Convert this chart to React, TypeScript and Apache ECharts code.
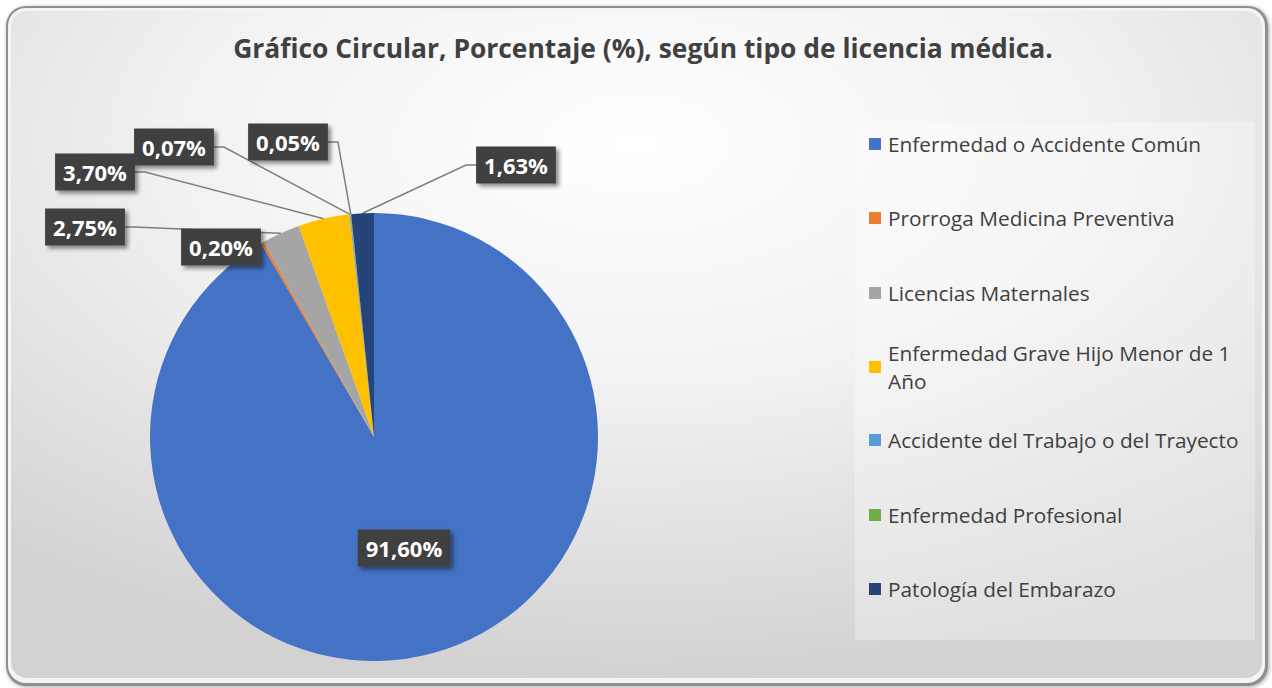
import React, { useEffect, useRef } from "react";
import * as echarts from "echarts";

const titleText = "Gráfico Circular, Porcentaje (%), según tipo de licencia médica.";
const categories = [
  "Enfermedad o Accidente Común",
  "Prorroga Medicina Preventiva",
  "Licencias Maternales",
  "Enfermedad Grave Hijo Menor de 1 Año",
  "Accidente del Trabajo o del Trayecto",
  "Enfermedad Profesional",
  "Patología del Embarazo",
];
const percentages = [91.6, 0.2, 2.75, 3.7, 0.07, 0.05, 1.63];
const colors = ["#4472C4", "#ED7D31", "#A5A5A5", "#FFC000", "#5B9BD5", "#70AD47", "#264478"];
const legendLines: Record<string, string> = {
  "Enfermedad Grave Hijo Menor de 1 Año": "Enfermedad Grave Hijo Menor de 1\nAño",
};

// layout (label box centers, legend marker rows)
const labelCenters: (number[] | null)[] = [null, [221, 247], [85, 227], [95, 172], [174, 147], [288, 142], [516, 165]];
const legendRows = [144, 218, 293, 367, 440, 515, 589];

const FONT = "Open Sans";

export default function App() {
  const ref = useRef<HTMLDivElement>(null);
  useEffect(() => {
    document.body.style.margin = "0";
    document.body.style.overflow = "hidden";
    const chart = echarts.init(ref.current!, undefined, { renderer: "svg" });
    const LH = 28;
    const legends = categories.map((name, i) => {
      const lines = (legendLines[name] || name).split("\n").length;
      const extra = (lines - 1) * LH;
      return {
        data: [name],
        orient: "vertical",
        left: 869,
        top: legendRows[i] - 14 - extra,
        padding: 0,
        itemGap: 0,
        icon: "rect",
        itemWidth: 12,
        itemHeight: 12,
        selectedMode: false,
        formatter: (n: string) => legendLines[n] || n,
        textStyle: {
          fontFamily: FONT,
          fontSize: 20.8,
          color: "#404040",
          lineHeight: LH,
          padding: extra ? [extra, 0, 0, 2] : [0, 0, 0, 2],
        },
      };
    });
    chart.setOption({
      animation: false,
      color: colors,
      title: {
        text: titleText,
        left: 638,
        textAlign: "center",
        top: 30,
        textStyle: { fontFamily: FONT, fontSize: 26.4, fontWeight: "bold", color: "#404040" },
      },
      graphic: [
        {
          type: "rect",
          z: -30,
          shape: { x: 6, y: 6, width: 1262, height: 680, r: 20 },
          style: {
            fill: "#8f8f8f",
            shadowBlur: 4,
            shadowColor: "rgba(0,0,0,0.35)",
            shadowOffsetX: 1,
            shadowOffsetY: 1,
          },
        },
        {
          type: "rect",
          z: -29,
          shape: { x: 8, y: 8, width: 1257, height: 675, r: 18 },
          style: { fill: "#f4f4f4" },
        },
        {
          type: "rect",
          z: -28,
          shape: { x: 11, y: 11, width: 1251, height: 667, r: 16 },
          style: {
            fill: {
              type: "radial",
              x: 0.5,
              y: 0.2,
              r: 0.8,
              colorStops: [
                { offset: 0, color: "#ffffff" },
                { offset: 0.45, color: "#f2f2f2" },
                { offset: 1, color: "#d2d2d2" },
              ],
            },
          },
        },
        {
          type: "rect",
          z: -27,
          shape: { x: 855, y: 122, width: 400, height: 518 },
          style: { fill: "rgba(255,255,255,0.3)" },
        },
      ],
      legend: legends,
      series: [
        {
          type: "pie",
          center: [374, 437],
          radius: 224,
          startAngle: 90,
          clockwise: true,
          avoidLabelOverlap: false,
          itemStyle: { borderWidth: 0 },
          label: {
            show: true,
            position: "outside",
            formatter: (p: any) => p.value.toFixed(2).replace(".", ",") + "%",
            color: "#ffffff",
            fontFamily: FONT,
            fontSize: 22,
            fontWeight: "bold",
            backgroundColor: "#404040",
            padding: [9, 8, 6, 8],
            shadowColor: "rgba(0,0,0,0.45)",
            shadowBlur: 4,
            shadowOffsetX: 3,
            shadowOffsetY: 3,
          },
          labelLine: {
            show: true,
            length: 10,
            length2: 10,
            lineStyle: { color: "#7f7f7f", width: 1.5 },
          },
          labelLayout: (params: any) => {
            const c = labelCenters[params.dataIndex];
            if (!c) return {};
            return { x: c[0], y: c[1], align: "center", verticalAlign: "middle" };
          },
          data: categories.map((name, i) =>
            i === 0
              ? { name, value: percentages[i], label: { position: "inside" }, labelLine: { show: false } }
              : { name, value: percentages[i] }
          ),
        },
      ],
    });
    return () => chart.dispose();
  }, []);
  return <div ref={ref} style={{ width: 1272, height: 688 }} />;
}
